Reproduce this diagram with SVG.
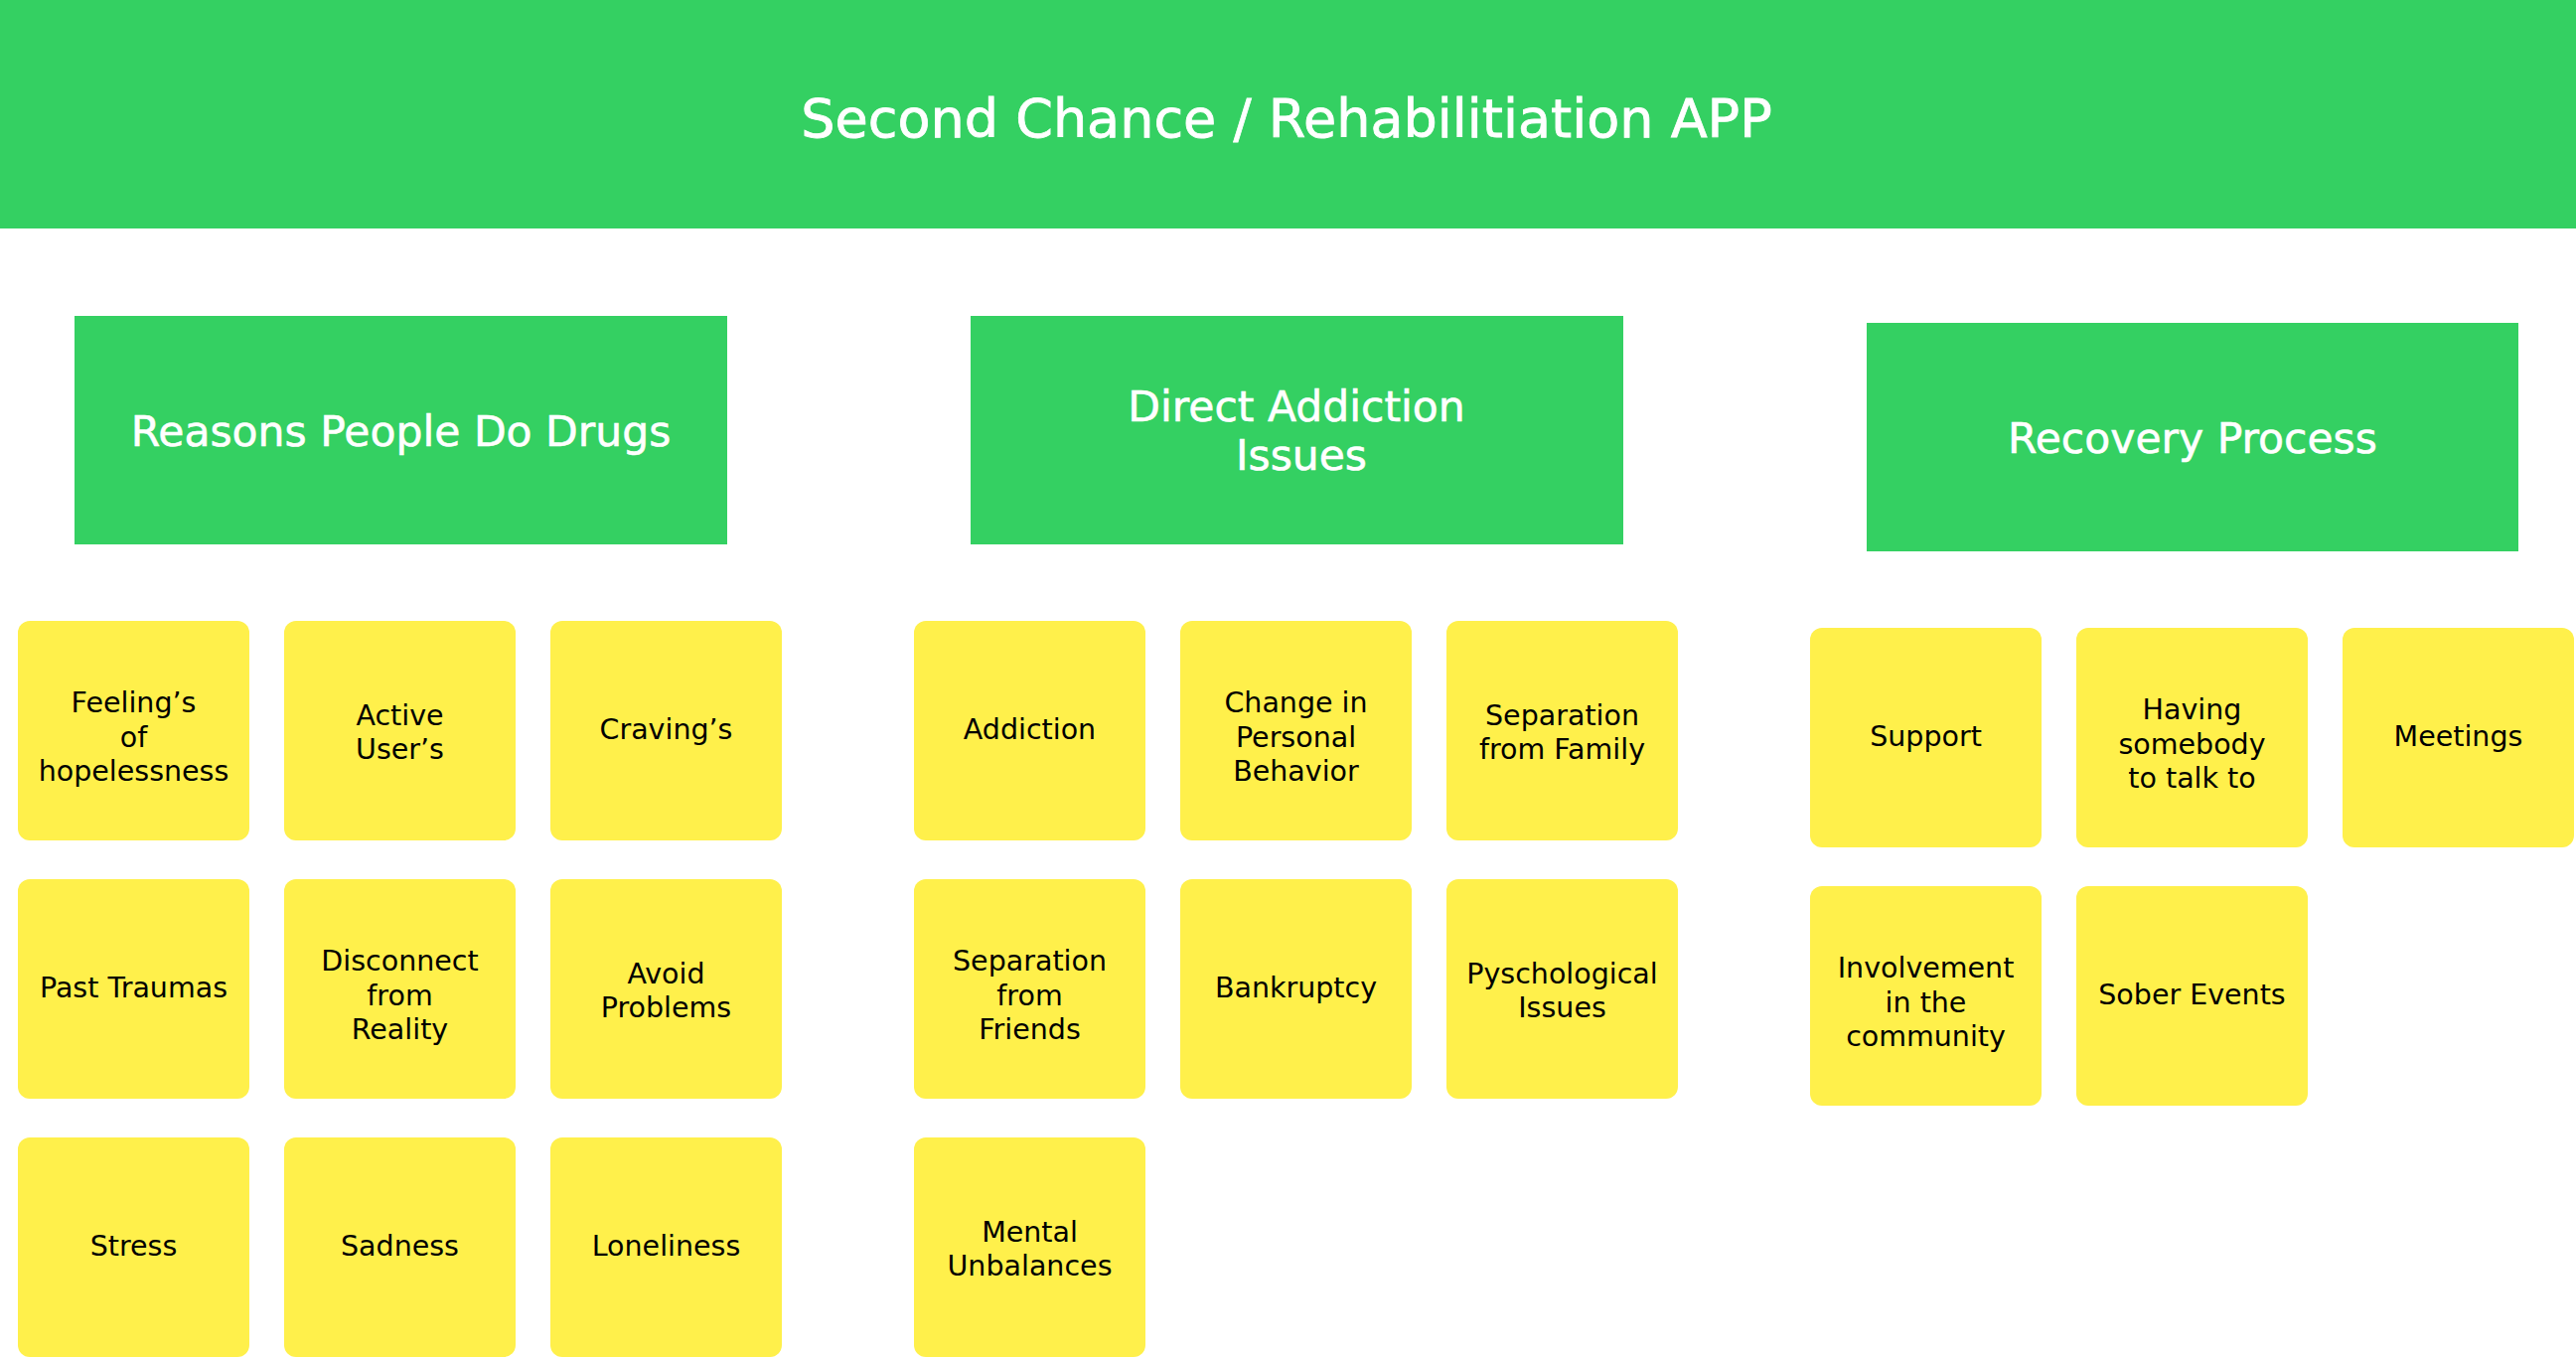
<svg xmlns="http://www.w3.org/2000/svg" width="2593" height="1367" viewBox="0 0 2593 1367">
<style>
.bg{fill:#ffffff}
.green{fill:#34D062}
.sticky{fill:#FFF04B}
.title{font-family:"DejaVu Sans","Liberation Sans",sans-serif;font-size:54px;fill:#ffffff;stroke:#ffffff;stroke-width:0.8;text-anchor:middle}
.head{font-family:"DejaVu Sans","Liberation Sans",sans-serif;font-size:42.5px;fill:#ffffff;stroke:#ffffff;stroke-width:0.6;text-anchor:middle}
.lbl{font-family:"DejaVu Sans","Liberation Sans",sans-serif;font-size:28.5px;fill:#000000;text-anchor:middle}
</style>
<rect class="bg" x="0" y="0" width="2593" height="1367"/>
<g id="connectors"/>
<g id="title">
<rect class="green" x="0" y="0" width="2593" height="230"/>
<text class="title" x="1295" y="138">Second Chance / Rehabilitiation APP</text>
</g>
<g id="head-reasons">
<rect class="green" x="75" y="318" width="657" height="230"/>
<text class="head" x="403.5" y="448.5">Reasons People Do Drugs</text>
</g>
<g id="head-direct">
<rect class="green" x="977" y="318" width="657" height="230"/>
<text class="head"><tspan x="1305" y="424">Direct Addiction</tspan><tspan x="1310" y="473">Issues</tspan></text>
</g>
<g id="head-recovery">
<rect class="green" x="1879" y="325" width="656" height="230"/>
<text class="head" x="2207" y="456">Recovery Process</text>
</g>

<g id="n-feelings">
<rect class="sticky" x="18" y="625" width="233" height="221" rx="12"/>
<text class="lbl"><tspan x="134.5" y="716.8">Feeling’s</tspan><tspan x="134.5" y="751.5">of</tspan><tspan x="134.5" y="786.2">hopelessness</tspan></text>
</g>
<g id="n-active">
<rect class="sticky" x="286" y="625" width="233" height="221" rx="12"/>
<text class="lbl"><tspan x="402.5" y="729.7">Active</tspan><tspan x="402.5" y="764.3">User’s</tspan></text>
</g>
<g id="n-cravings">
<rect class="sticky" x="554" y="625" width="233" height="221" rx="12"/>
<text class="lbl" x="670.5" y="744">Craving’s</text>
</g>
<g id="n-past">
<rect class="sticky" x="18" y="885" width="233" height="221" rx="12"/>
<text class="lbl" x="134.5" y="1004">Past Traumas</text>
</g>
<g id="n-disconnect">
<rect class="sticky" x="286" y="885" width="233" height="221" rx="12"/>
<text class="lbl"><tspan x="402.5" y="976.8">Disconnect</tspan><tspan x="402.5" y="1011.5">from</tspan><tspan x="402.5" y="1046.2">Reality</tspan></text>
</g>
<g id="n-avoid">
<rect class="sticky" x="554" y="885" width="233" height="221" rx="12"/>
<text class="lbl"><tspan x="670.5" y="989.7">Avoid</tspan><tspan x="670.5" y="1024.3">Problems</tspan></text>
</g>
<g id="n-stress">
<rect class="sticky" x="18" y="1145" width="233" height="221" rx="12"/>
<text class="lbl" x="134.5" y="1264">Stress</text>
</g>
<g id="n-sadness">
<rect class="sticky" x="286" y="1145" width="233" height="221" rx="12"/>
<text class="lbl" x="402.5" y="1264">Sadness</text>
</g>
<g id="n-loneliness">
<rect class="sticky" x="554" y="1145" width="233" height="221" rx="12"/>
<text class="lbl" x="670.5" y="1264">Loneliness</text>
</g>

<g id="n-addiction">
<rect class="sticky" x="920" y="625" width="233" height="221" rx="12"/>
<text class="lbl" x="1036.5" y="744">Addiction</text>
</g>
<g id="n-change">
<rect class="sticky" x="1188" y="625" width="233" height="221" rx="12"/>
<text class="lbl"><tspan x="1304.5" y="716.8">Change in</tspan><tspan x="1304.5" y="751.5">Personal</tspan><tspan x="1304.5" y="786.2">Behavior</tspan></text>
</g>
<g id="n-sep-family">
<rect class="sticky" x="1456" y="625" width="233" height="221" rx="12"/>
<text class="lbl"><tspan x="1572.5" y="729.7">Separation</tspan><tspan x="1572.5" y="764.3">from Family</tspan></text>
</g>
<g id="n-sep-friends">
<rect class="sticky" x="920" y="885" width="233" height="221" rx="12"/>
<text class="lbl"><tspan x="1036.5" y="976.8">Separation</tspan><tspan x="1036.5" y="1011.5">from</tspan><tspan x="1036.5" y="1046.2">Friends</tspan></text>
</g>
<g id="n-bankruptcy">
<rect class="sticky" x="1188" y="885" width="233" height="221" rx="12"/>
<text class="lbl" x="1304.5" y="1004">Bankruptcy</text>
</g>
<g id="n-psych">
<rect class="sticky" x="1456" y="885" width="233" height="221" rx="12"/>
<text class="lbl"><tspan x="1572.5" y="989.7">Pyschological</tspan><tspan x="1572.5" y="1024.3">Issues</tspan></text>
</g>
<g id="n-mental">
<rect class="sticky" x="920" y="1145" width="233" height="221" rx="12"/>
<text class="lbl"><tspan x="1036.5" y="1249.7">Mental</tspan><tspan x="1036.5" y="1284.3">Unbalances</tspan></text>
</g>

<g id="n-support">
<rect class="sticky" x="1822" y="632" width="233" height="221" rx="12"/>
<text class="lbl" x="1938.5" y="751">Support</text>
</g>
<g id="n-having">
<rect class="sticky" x="2090" y="632" width="233" height="221" rx="12"/>
<text class="lbl"><tspan x="2206.5" y="723.8">Having</tspan><tspan x="2206.5" y="758.5">somebody</tspan><tspan x="2206.5" y="793.2">to talk to</tspan></text>
</g>
<g id="n-meetings">
<rect class="sticky" x="2358" y="632" width="233" height="221" rx="12"/>
<text class="lbl" x="2474.5" y="751">Meetings</text>
</g>
<g id="n-involvement">
<rect class="sticky" x="1822" y="892" width="233" height="221" rx="12"/>
<text class="lbl"><tspan x="1938.5" y="983.8">Involvement</tspan><tspan x="1938.5" y="1018.5">in the</tspan><tspan x="1938.5" y="1053.2">community</tspan></text>
</g>
<g id="n-sober">
<rect class="sticky" x="2090" y="892" width="233" height="221" rx="12"/>
<text class="lbl" x="2206.5" y="1011">Sober Events</text>
</g>
</svg>
